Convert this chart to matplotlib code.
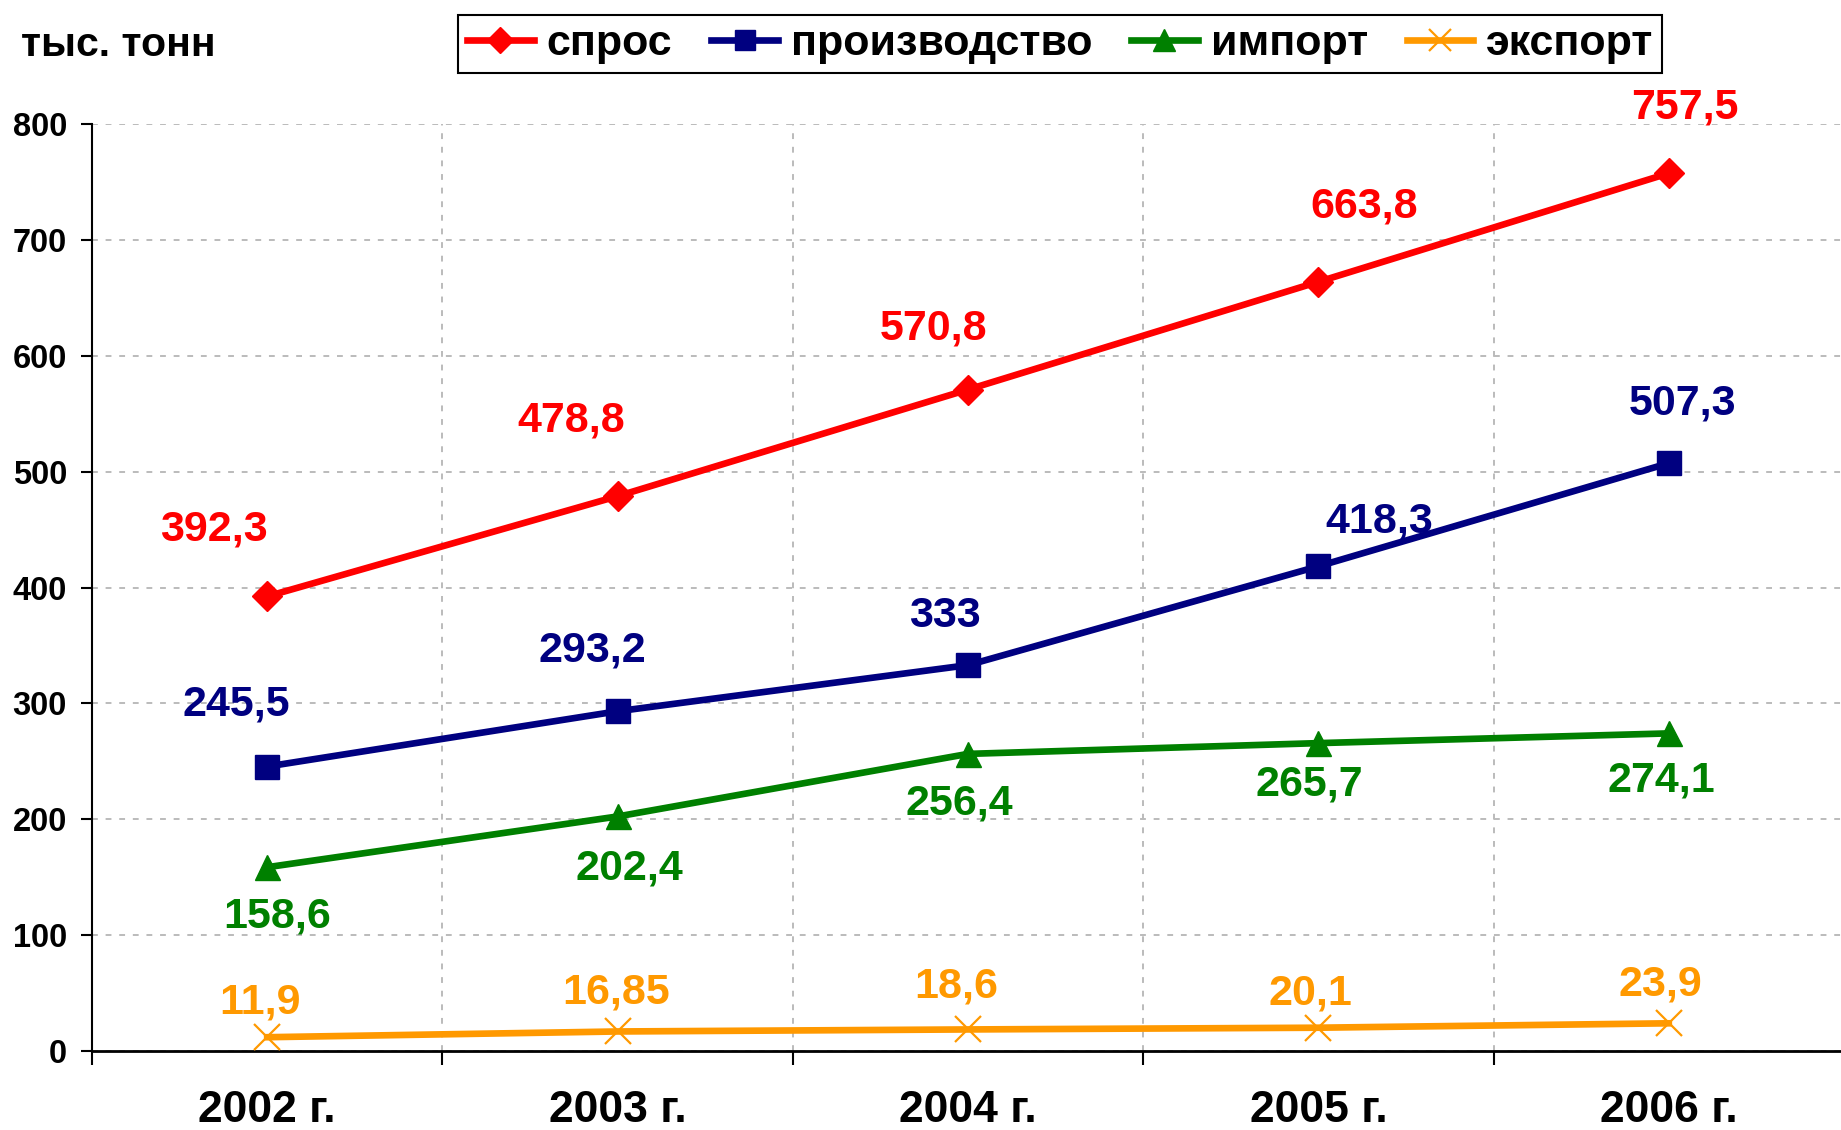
import matplotlib
matplotlib.use('Agg')
import matplotlib.pyplot as plt
from matplotlib.ticker import FixedLocator, NullFormatter, FixedFormatter

plt.rcParams['font.family'] = ['Liberation Sans', 'DejaVu Sans']
plt.rcParams['font.weight'] = 'bold'

years = ['2002 г.', '2003 г.', '2004 г.', '2005 г.', '2006 г.']
demand = [392.3, 478.8, 570.8, 663.8, 757.5]
production = [245.5, 293.2, 333.0, 418.3, 507.3]
imports = [158.6, 202.4, 256.4, 265.7, 274.1]
exports = [11.9, 16.85, 18.6, 20.1, 23.9]

demand_txt = ['392,3', '478,8', '570,8', '663,8', '757,5']
production_txt = ['245,5', '293,2', '333', '418,3', '507,3']
imports_txt = ['158,6', '202,4', '256,4', '265,7', '274,1']
exports_txt = ['11,9', '16,85', '18,6', '20,1', '23,9']

# label offsets in pixels (dx, dy), y up
demand_off = [(-53, 67), (-46, 76), (-34, 61), (46, 75), (16, 66)]
production_off = [(-31, 62), (-25, 61), (-23, 49), (61, 45), (14, 60)]
imports_off = [(10, -49), (12, -52), (-9, -50), (-9, -41), (-7, -47)]
exports_off = [(-7, 35), (-1, 39), (-12, 43), (-8, 34), (-8, 39)]

series = [
  ('спрос', demand, demand_txt, demand_off, '#FF0000', 'D', 15),
  ('производство', production, production_txt, production_off, '#000080', 's', 17),
  ('импорт', imports, imports_txt, imports_off, '#008000', '^', 18),
  ('экспорт', exports, exports_txt, exports_off, '#FF9900', 'x', 19),
]

fig = plt.figure(figsize=(18.41, 11.30), dpi=100)
# axes runs a little past the right edge, as in the original
ax = fig.add_axes([92 / 1841, 79 / 1130, 1752 / 1841, (1051 - 124) / 1130])

x = list(range(len(years)))
for name, vals, txts, offs, color, marker, ms in series:
  mew = 1.6 if marker == 'x' else 1
  ax.plot(x, vals, color=color, lw=4.8, marker=marker, ms=ms, mew=mew,
          label=name, zorder=3, clip_on=False)
  for xi, v, t, o in zip(x, vals, txts, offs):
    ax.annotate(t, (xi, v), xytext=o, textcoords='offset pixels',
                ha='center', va='center', color=color, fontsize=31,
                fontweight='bold')

ax.set_xlim(-0.5, 4.5)
ax.set_ylim(0, 800)
ax.set_yticks(range(0, 801, 100))
ax.xaxis.set_major_locator(FixedLocator([-0.5, 0.5, 1.5, 2.5, 3.5]))
ax.xaxis.set_major_formatter(NullFormatter())
ax.xaxis.set_minor_locator(FixedLocator(x))
ax.xaxis.set_minor_formatter(FixedFormatter(years))
ax.tick_params(axis='x', which='major', length=10, width=1.5, direction='out')
ax.tick_params(axis='x', which='minor', length=0, pad=28, labelsize=32)
ax.tick_params(axis='y', length=8, width=1.5, direction='out', pad=10, labelsize=23.5)
for lab in ax.get_xticklabels(minor=True) + ax.get_yticklabels():
  lab.set_fontweight('bold')

ax.grid(True, which='major', color='#BBBBBB', linestyle=(0, (3, 4)), lw=1.4)
ax.set_axisbelow(True)
for s in ['top', 'right']:
  ax.spines[s].set_visible(False)
ax.spines['left'].set_linewidth(1.5)
ax.spines['bottom'].set_linewidth(2)

fig.text(21 / 1841, 1 - 45 / 1130, 'тыс. тонн', fontsize=29.5, fontweight='bold',
         ha='left', va='center')

leg = fig.legend(loc='center', bbox_to_anchor=(0.576, 0.961), ncol=4,
                 fontsize=31, frameon=True, fancybox=False, framealpha=1,
                 edgecolor='black', handlelength=1.55, columnspacing=0.9,
                 handletextpad=0.3, borderpad=0.2, markerscale=0.85)
leg.get_frame().set_linewidth(1.5)
for t in leg.get_texts():
  t.set_fontweight('bold')

fig.savefig('out.png', dpi=100)
